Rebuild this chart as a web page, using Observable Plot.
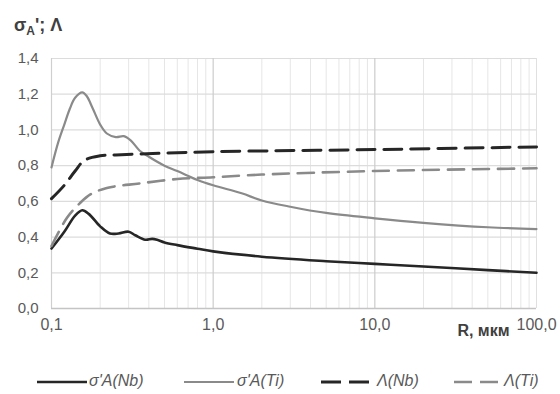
<!DOCTYPE html>
<html>
<head>
<meta charset="utf-8">
<script src="https://cdn.jsdelivr.net/npm/d3@7"></script>
<script src="https://cdn.jsdelivr.net/npm/@observablehq/plot@0.6"></script>
<style>
  html, body { margin: 0; padding: 0; background: #fff; }
  #wrap { position: relative; width: 560px; height: 394px; font-family: "Liberation Sans", Arial, sans-serif; color: #595959; }
  #title { position: absolute; left: 14px; top: 15px; font-weight: bold; font-size: 18px; color: #404040; }
  #title sub { font-size: 12px; vertical-align: -4px; }
  #chart { position: absolute; left: 0; top: 0; }
  .leg { position: absolute; top: 372px; font-style: italic; font-size: 16px; color: #595959; line-height: 18px; }
  .sw { position: absolute; top: 373px; }
</style>
</head>
<body>
<div id="wrap">
  <div id="chart"></div>
  <div id="title">σ<sub>A</sub>'; Λ</div>
  <div id="legend"></div>
</div>
<script>
// ---- data ----
const sigmaTi_R = [0.1, 0.11, 0.12, 0.13, 0.14, 0.155, 0.165, 0.18, 0.2, 0.22, 0.25, 0.28, 0.31, 0.35, 0.4, 0.5, 0.6, 0.8, 1.0, 1.5, 2, 3, 5, 10, 20, 50, 100];
const sigmaTi_V = [0.79, 0.93, 1.03, 1.12, 1.18, 1.21, 1.19, 1.12, 1.03, 0.98, 0.96, 0.965, 0.94, 0.885, 0.85, 0.80, 0.77, 0.72, 0.69, 0.645, 0.605, 0.57, 0.535, 0.505, 0.48, 0.455, 0.445];

const sigmaNb_R = [0.1, 0.12, 0.14, 0.155, 0.17, 0.2, 0.23, 0.26, 0.3, 0.33, 0.38, 0.42, 0.45, 0.5, 0.6, 0.8, 1.0, 2, 5, 10, 20, 50, 100];
const sigmaNb_V = [0.336, 0.43, 0.52, 0.55, 0.53, 0.46, 0.42, 0.42, 0.43, 0.41, 0.385, 0.39, 0.385, 0.37, 0.355, 0.335, 0.32, 0.29, 0.265, 0.25, 0.235, 0.215, 0.20];

const lambdaNb_R = [0.1, 0.12, 0.14, 0.16, 0.2, 0.25, 0.35, 0.5, 1, 10, 100];
const lambdaNb_V = [0.615, 0.69, 0.77, 0.83, 0.855, 0.86, 0.865, 0.87, 0.878, 0.89, 0.905];

const lambdaTi_R = [0.1, 0.125, 0.15, 0.175, 0.22, 0.35, 0.6, 1.0, 2, 10, 100];
const lambdaTi_V = [0.35, 0.51, 0.59, 0.64, 0.675, 0.70, 0.725, 0.735, 0.75, 0.77, 0.785];

const seriesNames = ["σ'A(Nb)", "σ'A(Ti)", "Λ(Nb)", "Λ(Ti)"];
const xTicks = [0.1, 1, 10, 100];
const xTickLabels = ["0,1", "1,0", "10,0", "100,0"];
const yTicks = [0, 0.2, 0.4, 0.6, 0.8, 1.0, 1.2, 1.4];
const xLabel = "R, мкм";

// ---- build ----
const zip = (R, V) => R.map((r, i) => ({R: r, v: V[i]}));
const sNb = zip(sigmaNb_R, sigmaNb_V);
const sTi = zip(sigmaTi_R, sigmaTi_V);
const lNb = zip(lambdaNb_R, lambdaNb_V);
const lTi = zip(lambdaTi_R, lambdaTi_V);

const minorX = [];
for (const d of [0.1, 1, 10]) for (let k = 2; k <= 9; k++) minorX.push(+(d * k).toFixed(3));

const styles = [
  {stroke: "#262626", strokeWidth: 2.6, dash: null},
  {stroke: "#8a8a8a", strokeWidth: 2.2, dash: null},
  {stroke: "#262626", strokeWidth: 3, dash: "18,9"},
  {stroke: "#8a8a8a", strokeWidth: 2.6, dash: "16,9"}
];
const datas = [sNb, sTi, lNb, lTi];

const fmtComma = d => d3.format(".1f")(d).replace(".", ",");

const chart = Plot.plot({
  width: 560,
  height: 345,
  marginLeft: 51,
  marginRight: 24,
  marginTop: 58,
  marginBottom: 37,
  style: {fontFamily: "'Liberation Sans', Arial, sans-serif", background: "transparent", overflow: "visible"},
  x: {type: "log", domain: [0.1, 100]},
  y: {domain: [0, 1.4]},
  marks: [
    Plot.ruleX(minorX, {stroke: "#e6e6e6", strokeWidth: 1}),
    Plot.ruleX([100], {stroke: "#e0e0e0", strokeWidth: 1}),
    Plot.ruleY(yTicks.filter(d => d > 0), {stroke: "#dcdcdc", strokeWidth: 1.2}),
    Plot.ruleX([1, 10], {stroke: "#cccccc", strokeWidth: 1.2}),
    Plot.ruleX([0.1], {stroke: "#cfcfcf", strokeWidth: 1.2}),
    Plot.ruleY([0], {stroke: "#c4c4c4", strokeWidth: 1.4}),
    ...datas.map((d, i) => Plot.line(d, {
      x: "R", y: "v", curve: "catmull-rom",
      stroke: styles[i].stroke, strokeWidth: styles[i].strokeWidth,
      strokeDasharray: styles[i].dash
    })),
    Plot.axisY(yTicks, {tickSize: 0, tickPadding: 13, tickFormat: fmtComma, fontSize: 15, fill: "#595959", label: null}),
    Plot.axisX(xTicks, {tickSize: 0, tickPadding: 10, tickFormat: (d) => xTickLabels[xTicks.indexOf(d)], fontSize: 16, fill: "#595959", label: null}),
    Plot.text([xLabel], {frameAnchor: "bottom-right", dx: -27, dy: 27, fontSize: 16, fontWeight: "bold", fill: "#404040", text: d => d})
  ]
});
document.getElementById("chart").appendChild(chart);

// ---- legend ----
const legend = document.getElementById("legend");
const swLeft = [37, 184, 321, 454];
const txtLeft = [89, 237, 377, 504];
seriesNames.forEach((name, i) => {
  const s = styles[i];
  const sv = document.createElementNS("http://www.w3.org/2000/svg", "svg");
  sv.setAttribute("width", 52); sv.setAttribute("height", 18);
  sv.setAttribute("class", "sw");
  sv.style.left = swLeft[i] + "px";
  const ln = document.createElementNS("http://www.w3.org/2000/svg", "line");
  ln.setAttribute("x1", 0); ln.setAttribute("x2", 50);
  ln.setAttribute("y1", 9); ln.setAttribute("y2", 9);
  ln.setAttribute("stroke", s.stroke);
  ln.setAttribute("stroke-width", s.strokeWidth);
  if (s.dash) ln.setAttribute("stroke-dasharray", i === 2 ? "20,8" : "18,8");
  sv.appendChild(ln);
  legend.appendChild(sv);
  const t = document.createElement("div");
  t.className = "leg";
  t.style.left = txtLeft[i] + "px";
  t.textContent = name;
  legend.appendChild(t);
});
</script>
</body>
</html>
